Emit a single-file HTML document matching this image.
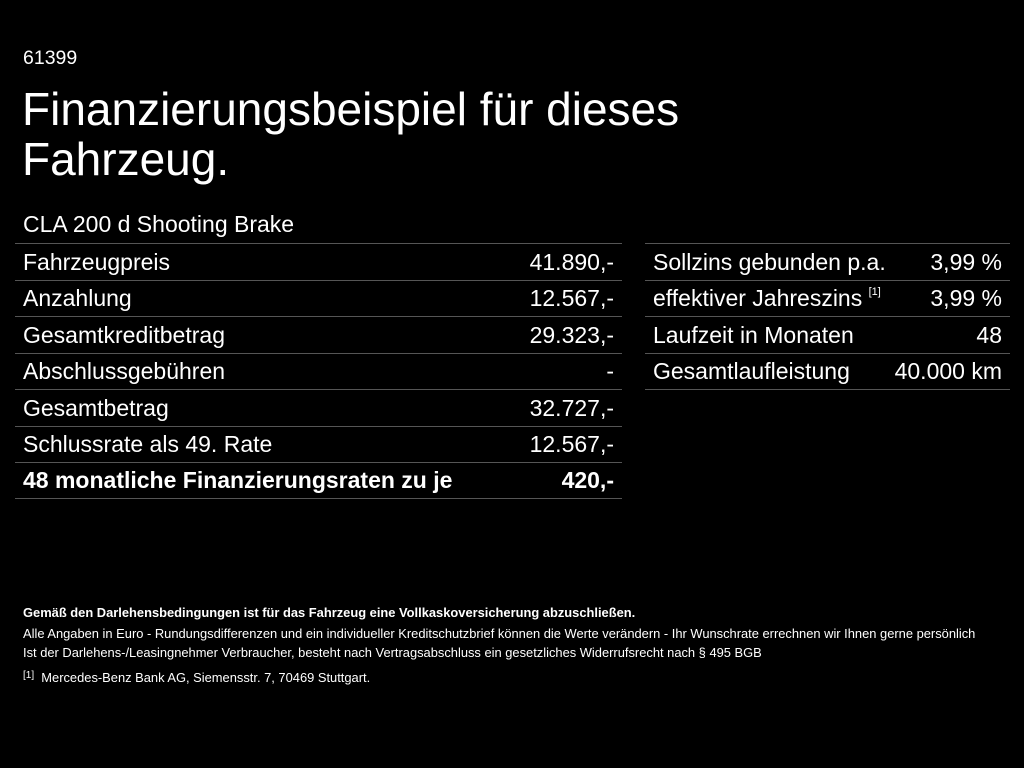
<!DOCTYPE html>
<html><head><meta charset="utf-8"><style>
html,body{margin:0;padding:0;background:#000;width:1024px;height:768px;overflow:hidden}
body{font-family:"Liberation Sans",sans-serif;color:#fff;position:relative}
.a{position:absolute;white-space:nowrap}
.row{position:absolute;height:36px;border-bottom:1px solid #555;font-size:23px;line-height:37px}
.row span.l{position:absolute;left:8px}
.row span.r{position:absolute;right:8px}
.top{border-top:1px solid #555}
sup{font-size:11px;vertical-align:top;line-height:24px}
.f{font-size:12.9px}
</style></head><body>
<div class="a" style="left:23px;top:47px;font-size:19.5px">61399</div>
<div class="a" style="left:22px;top:84px;font-size:46px;line-height:50px">Finanzierungsbeispiel für dieses<br>Fahrzeug.</div>
<div class="a" style="left:23px;top:211px;font-size:23px">CLA 200 d Shooting Brake</div>

<div class="row top" style="left:15px;width:607px;top:243px"><span class="l">Fahrzeugpreis</span><span class="r">41.890,-</span></div>
<div class="row" style="left:15px;width:607px;top:280px"><span class="l">Anzahlung</span><span class="r">12.567,-</span></div>
<div class="row" style="left:15px;width:607px;top:317px"><span class="l">Gesamtkreditbetrag</span><span class="r">29.323,-</span></div>
<div class="row" style="left:15px;width:607px;top:353px"><span class="l">Abschlussgebühren</span><span class="r">-</span></div>
<div class="row" style="left:15px;width:607px;top:390px"><span class="l">Gesamtbetrag</span><span class="r">32.727,-</span></div>
<div class="row" style="left:15px;width:607px;top:426px"><span class="l">Schlussrate als 49. Rate</span><span class="r">12.567,-</span></div>
<div class="row" style="left:15px;width:607px;top:462px;font-weight:bold;font-size:23px"><span class="l">48 monatliche Finanzierungsraten zu je</span><span class="r">420,-</span></div>

<div class="row top" style="left:645px;width:365px;top:243px"><span class="l">Sollzins gebunden p.a.</span><span class="r">3,99 %</span></div>
<div class="row" style="left:645px;width:365px;top:280px"><span class="l">effektiver Jahreszins <sup>[1]</sup></span><span class="r">3,99 %</span></div>
<div class="row" style="left:645px;width:365px;top:317px"><span class="l">Laufzeit in Monaten</span><span class="r">48</span></div>
<div class="row" style="left:645px;width:365px;top:353px"><span class="l">Gesamtlaufleistung</span><span class="r">40.000 km</span></div>

<div class="a f" style="left:23px;top:605px;font-weight:bold">Gemäß den Darlehensbedingungen ist für das Fahrzeug eine Vollkaskoversicherung abzuschließen.</div>
<div class="a f" style="left:23px;top:626px">Alle Angaben in Euro - Rundungsdifferenzen und ein individueller Kreditschutzbrief können die Werte verändern - Ihr Wunschrate errechnen wir Ihnen gerne persönlich</div>
<div class="a f" style="left:23px;top:645px">Ist der Darlehens-/Leasingnehmer Verbraucher, besteht nach Vertragsabschluss ein gesetzliches Widerrufsrecht nach § 495 BGB</div>
<div class="a f" style="left:23px;top:670px"><span style="font-size:10px;vertical-align:top">[1]</span>&nbsp; Mercedes-Benz Bank AG, Siemensstr. 7, 70469 Stuttgart.</div>
</body></html>
